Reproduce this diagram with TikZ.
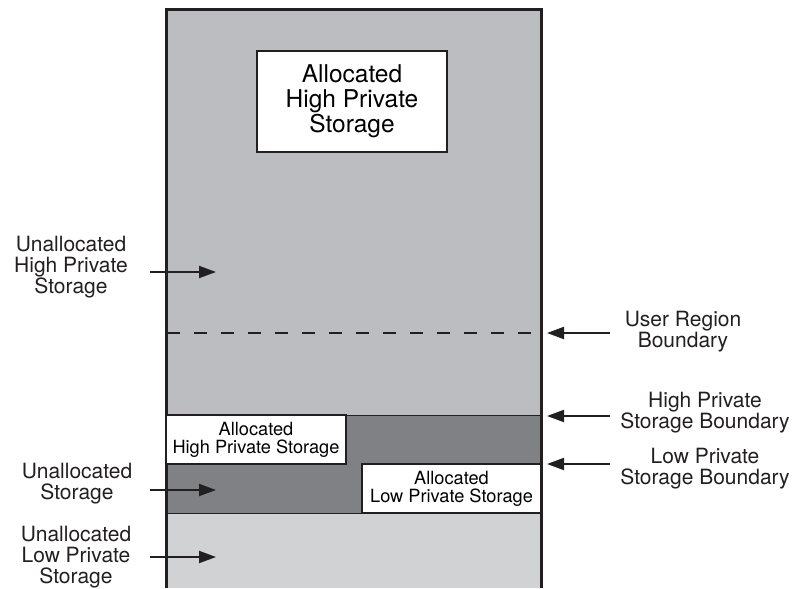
\documentclass[tikz,border=0pt]{standalone}
\usepackage{fontspec}
\setmainfont{TeX Gyre Heros}
\usetikzlibrary{arrows.meta, positioning}
\definecolor{hiGray}{RGB}{188,189,193}
\definecolor{midGray}{RGB}{128,129,133}
\definecolor{loGray}{RGB}{209,210,212}
\definecolor{inkBlack}{RGB}{35,31,32}

\tikzset{
  pointer/.style={-{Triangle[length=8.5pt,width=6pt]}, line width=1pt, draw=inkBlack},
  allocbox/.style={draw=inkBlack, fill=white, line width=1.25pt, align=center, inner sep=0pt},
  sidelabel/.style={align=center, inner sep=0pt, text=inkBlack, font=\fontsize{10.5}{10.5}\selectfont},
}

\begin{document}
\begin{tikzpicture}[x=0.5pt, y=-0.5pt]
      \useasboundingbox (0, 0) rectangle (796, 588);

      % storage regions
      \fill[hiGray] (166, 10) rectangle (541, 415);
      \fill[midGray] (166, 415) rectangle (541, 513);
      \fill[loGray] (166, 513) rectangle (541, 588);
      \draw[inkBlack, line width=0.5pt] (166, 415) -- (541, 415);
      \draw[inkBlack, line width=0.5pt] (166, 513) -- (541, 513);
      \draw[inkBlack, line width=1pt, dash pattern=on 6.5pt off 7pt] (167, 333) -- (541, 333);
      \draw[inkBlack, line width=1.5pt] (166, 588) -- (166, 10) -- (541, 10) -- (541, 588);

      % allocated boxes
      \node[allocbox, minimum width=95pt, minimum height=50.5pt, font=\fontsize{12.25}{12.5}\selectfont] (topAlloc) at (352, 101.5) {Allocated\\High Private\\Storage};
      \node[allocbox, minimum width=90pt, minimum height=24.5pt, font=\fontsize{9.1}{9}\selectfont] (hiAlloc) at (256, 439.5) {Allocated\\High Private Storage};
      \node[allocbox, minimum width=89.5pt, minimum height=24.5pt, font=\fontsize{9.1}{9}\selectfont] (loAlloc) at (451.5, 488.5) {Allocated\\Low Private Storage};

      % left labels
      \node[sidelabel] (unHiLabel) at (71, 267) {Unallocated\\High Private\\Storage};
      \node[sidelabel] (unMidLabel) at (77, 484) {Unallocated\\Storage};
      \node[sidelabel] (unLoLabel) at (76, 557) {Unallocated\\Low Private\\Storage};
      \coordinate (unHiTail) at (150, 272);
      \coordinate (unHiTip) at (216, 272);
      \coordinate (unMidTail) at (150, 490);
      \coordinate (unMidTip) at (216, 490);
      \coordinate (unLoTail) at (150, 557);
      \coordinate (unLoTip) at (216, 557);
      \draw[pointer] (unHiTail) -- (unHiTip);
      \draw[pointer] (unMidTail) -- (unMidTip);
      \draw[pointer] (unLoTail) -- (unLoTip);

      % right labels
      \node[sidelabel] (userLabel) at (683, 332) {User Region\\Boundary};
      \node[sidelabel] (hiBndLabel) at (705, 412.5) {High Private\\Storage Boundary};
      \node[sidelabel] (loBndLabel) at (705, 469) {Low Private\\Storage Boundary};
      \coordinate (userTail) at (610, 333);
      \coordinate (userTip) at (547, 333);
      \coordinate (hiBndTail) at (610, 416);
      \coordinate (hiBndTip) at (547, 416);
      \coordinate (loBndTail) at (610, 464);
      \coordinate (loBndTip) at (547, 464);
      \draw[pointer] (userTail) -- (userTip);
      \draw[pointer] (hiBndTail) -- (hiBndTip);
      \draw[pointer] (loBndTail) -- (loBndTip);
\end{tikzpicture}
\end{document}
